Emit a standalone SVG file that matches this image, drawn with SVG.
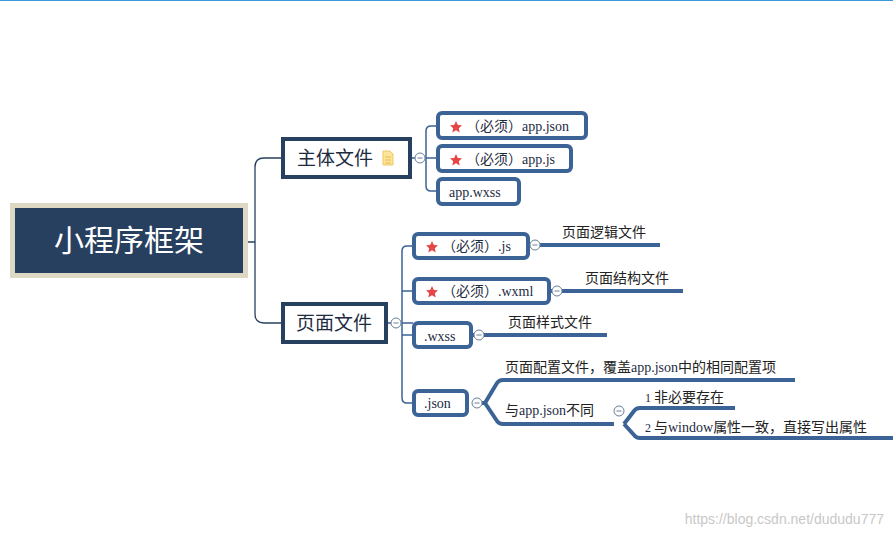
<svg xmlns="http://www.w3.org/2000/svg" width="893" height="538" viewBox="0 0 893 538">
<style>
.t{font-family:"Liberation Serif","Noto Sans CJK SC",serif;fill:#1d2b3f}
.c{font-family:"Noto Sans CJK SC",sans-serif;fill:#222}
.b{fill:#fff;stroke:#3b6396;stroke-width:4}
.ln{fill:none;stroke:#3b6396;stroke-width:4}
.th{fill:none;stroke:#3b6396;stroke-width:1.5}
.cc{fill:#fff;stroke:#6a7f99;stroke-width:1}
</style>
<defs>
<polygon id="star" points="0,-6 1.8,-2 6,-1.8 2.8,1.2 3.7,5.6 0,3.3 -3.7,5.6 -2.8,1.2 -6,-1.8 -1.8,-2" fill="#e64545"/>
<g id="col"><circle r="5" class="cc"/><line x1="-2.5" x2="2.5" stroke="#6a7f99"/></g>
</defs>
<rect width="893" height="538" fill="#fff"/>
<line x1="0" y1="0.5" x2="893" y2="0.5" stroke="#3b9ad9"/>
<g id="connectors">
<path d="M248,242 H255 M282,158 H264 Q255,158 255,167 V314 Q255,323 264,323 H282" fill="none" stroke="#27405f" stroke-width="1.3"/>
<path d="M412,158 H415 M426,158 H437 M437,126 H431 Q426,126 426,131 V186 Q426,191 431,191 H437" class="th"/>
<path d="M388,323 H391 M402,323 H413 M413,246 H407 Q402,246 402,251 V398 Q402,403 407,403 H413 M402,291 H413 M402,335 H413" class="th"/>
<path d="M529,245 H530 M540,245 H660" class="ln" stroke-width="3"/>
<path d="M550,291 H552 M562,291 H683" class="ln" stroke-width="3"/>
<path d="M472,335 H474 M484,335 H607" class="ln" stroke-width="3"/>
<path d="M482,403 H485 L497,383 Q499,380 503,380 H795 M485,403 L497,421 Q499,424 503,424 H614" class="ln" stroke-width="3"/>
<path d="M624,424 L634,411 Q636,408 640,408 H735 M624,424 L634,435 Q636,438 640,438 H893" class="ln" stroke-width="3"/>
</g>
<g id="root">
<rect x="10" y="203" width="238" height="75" fill="#dcd8c4"/>
<rect x="15" y="208" width="228" height="65" fill="#27405f"/>
<text x="129" y="251" text-anchor="middle" font-size="30" class="t" style="fill:#fff">小程序框架</text>
</g>
<g id="main">
<rect x="283" y="139" width="127" height="38" fill="#fff" stroke="#27405f" stroke-width="4"/>
<text x="335" y="165" text-anchor="middle" font-size="19" class="t">主体文件</text>
<path d="M383,151 h7 l3,3 v11 h-10z" fill="#fde59a" stroke="#f0c860"/>
<path d="M385,157 h6 M385,160 h6 M385,163 h6" stroke="#e0b040" stroke-width="0.8"/>
<use href="#col" x="420" y="158"/>
</g>
<g id="appjson"><rect x="438" y="113" width="148" height="25" rx="4" class="b"/><use href="#star" x="456" y="127"/><text x="466" y="131" font-size="14" class="t">（必须）app.json</text></g>
<g id="appjs"><rect x="438" y="146" width="133" height="25" rx="4" class="b"/><use href="#star" x="456" y="160"/><text x="466" y="164" font-size="14" class="t">（必须）app.js</text></g>
<g id="appwxss"><rect x="438" y="179" width="81" height="25" rx="4" class="b"/><text x="449" y="197" font-size="14" class="t">app.wxss</text></g>
<g id="page">
<rect x="283" y="304" width="103" height="38" fill="#fff" stroke="#27405f" stroke-width="4"/>
<text x="334" y="330" text-anchor="middle" font-size="19" class="t">页面文件</text>
<use href="#col" x="396" y="323"/>
</g>
<g id="js"><rect x="414" y="234" width="114" height="24" rx="4" class="b"/><use href="#star" x="432" y="247"/><text x="442" y="251" font-size="14" class="t">（必须）.js</text><use href="#col" x="535" y="245"/><text x="562" y="237" font-size="14" class="c">页面逻辑文件</text></g>
<g id="wxml"><rect x="414" y="279" width="135" height="24" rx="4" class="b"/><use href="#star" x="432" y="292"/><text x="442" y="296" font-size="14" class="t">（必须）.wxml</text><use href="#col" x="557" y="291"/><text x="585" y="283" font-size="14" class="c">页面结构文件</text></g>
<g id="wxss"><rect x="414" y="323" width="57" height="24" rx="4" class="b"/><text x="424" y="341" font-size="14" class="t">.wxss</text><use href="#col" x="479" y="335"/><text x="508" y="327" font-size="14" class="c">页面样式文件</text></g>
<g id="json"><rect x="414" y="391" width="53" height="24" rx="4" class="b"/><text x="424" y="408" font-size="14" class="t">.json</text><use href="#col" x="477" y="403"/>
<text x="505" y="372" font-size="14" class="c">页面配置文件，覆盖<tspan class="t">app.json</tspan>中的相同配置项</text>
<text x="505" y="415" font-size="14" class="c">与<tspan class="t">app.json</tspan>不同</text>
<use href="#col" x="619" y="411"/>
<text x="645" y="402" font-size="14" class="c"><tspan class="t" font-size="12">1 </tspan>非必要存在</text>
<text x="645" y="432" font-size="14" class="c"><tspan class="t" font-size="12">2 </tspan>与<tspan class="t">window</tspan>属性一致，直接写出属性</text>
</g>
<text x="884" y="524" text-anchor="end" font-size="14" font-family="Liberation Sans,sans-serif" fill="#c8c8c8">https://blog.csdn.net/dududu777</text>
</svg>
